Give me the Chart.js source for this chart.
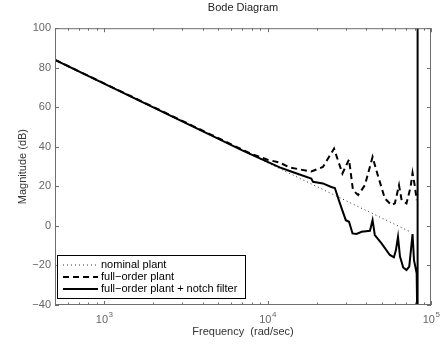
<!DOCTYPE html>
<html>
<head>
<meta charset="utf-8">
<script src="https://cdn.jsdelivr.net/npm/chart.js@4.4.1/dist/chart.umd.min.js"></script>
<style>
  html, body { margin: 0; padding: 0; background: #fff; }
  #wrap { width: 441px; height: 347px; }
</style>
</head>
<body>
<div id="wrap"><canvas id="bode"></canvas></div>
<script>
// frequency (rad/sec) and magnitude (dB)
const nominalFreq = [500, 76000];
const nominalMag = [84, -3.3];

const fullFreq = [500, 7940, 10000, 11860, 13650, 15700, 18500, 21800, 25500, 28700, 31500, 33300,
    35800, 39400, 43900, 46900, 52200, 57400, 60100, 63700, 66100, 70800, 75000, 77100, 79800, 81700];
const fullMag = [84, 36.4, 33.5, 32.0, 29.6, 28.6, 27.5, 29.8, 39.1, 26.5, 33.6, 18.1,
    15.6, 20.6, 34.9, 26.5, 13.9, 10.5, 11.4, 20.6, 13.0, 11.4, 19.7, 26.8, 19.7, 13.0];

const notchFreq = [500, 7000, 10000, 11860, 13650, 15700, 18500, 18970, 21800, 24500, 25800, 27700,
    30100, 31500, 33100, 35000, 37600, 42300, 43900, 45300, 49800, 56000, 59300, 61000, 62800,
    64600, 67600, 70800, 73600, 77100, 78700, 81700, 82800, 82800];
const notchMag = [84, 38.2, 32.4, 29.6, 27.8, 26.0, 24.0, 22.3, 21.5, 19.7, 19.2, 11.4,
    2.9, 2.1, -3.8, -4.1, -3.0, -2.5, 2.9, -4.6, -8.8, -14.7, -15.9, -12.2, -5.5,
    -15.5, -21.0, -22.3, -20.6, -4.1, -17.3, -24.0, -60, 120];

const seriesNames = ['nominal plant', 'full\u2212order plant', 'full\u2212order plant + notch filter'];
const freqTicks = [1000, 10000, 100000];
const freqTickExp = ['3', '4', '5'];
const minorFreqTicks = [500, 600, 700, 800, 900, 2000, 3000, 4000, 5000, 6000, 7000, 8000, 9000,
    20000, 30000, 40000, 50000, 60000, 70000, 80000, 90000];
const magTicks = [-40, -20, 0, 20, 40, 60, 80, 100];

const FONT = 'Liberation Sans, Arial, Helvetica, sans-serif';

function pts(xs, ys) {
    return xs.map((f, i) => ({ x: f, y: ys[i] }));
}

// box round the axes with inward ticks, like matlab
const frameTicks = {
    id: 'frameTicks',
    afterDatasetsDraw(chart) {
        const { ctx, chartArea: a, scales: { x, y } } = chart;
        ctx.save();
        ctx.strokeStyle = '#6e6e6e';
        ctx.lineWidth = 1;
        ctx.beginPath();
        magTicks.forEach(v => {
            const py = Math.round(y.getPixelForValue(v)) + 0.5;
            ctx.moveTo(a.left, py); ctx.lineTo(a.left + 4, py);
            ctx.moveTo(a.right, py); ctx.lineTo(a.right - 4, py);
        });
        freqTicks.forEach(v => {
            const px = Math.round(x.getPixelForValue(v)) + 0.5;
            ctx.moveTo(px, a.bottom); ctx.lineTo(px, a.bottom - 4);
            ctx.moveTo(px, a.top); ctx.lineTo(px, a.top + 4);
        });
        minorFreqTicks.forEach(v => {
            const px = Math.round(x.getPixelForValue(v)) + 0.5;
            ctx.moveTo(px, a.bottom); ctx.lineTo(px, a.bottom - 2.5);
            ctx.moveTo(px, a.top); ctx.lineTo(px, a.top + 2.5);
        });
        ctx.stroke();
        ctx.strokeRect(a.left + 0.5, a.top + 0.5, a.right - a.left - 1, a.bottom - a.top - 1);

        // decade labels as 10 with a raised exponent
        ctx.fillStyle = '#666';
        ctx.textBaseline = 'alphabetic';
        freqTicks.forEach((v, i) => {
            const px = x.getPixelForValue(v);
            ctx.font = '11px ' + FONT;
            const w10 = ctx.measureText('10').width;
            ctx.font = '8px ' + FONT;
            const we = ctx.measureText(freqTickExp[i]).width;
            const x0 = px - (w10 + we) / 2;
            ctx.font = '11px ' + FONT;
            ctx.textAlign = 'left';
            ctx.fillText('10', x0, a.bottom + 18);
            ctx.font = '8px ' + FONT;
            ctx.fillText(freqTickExp[i], x0 + w10 + 0.5, a.bottom + 12);
        });
        ctx.restore();
    }
};

// legend box in the lower left corner of the axes
const boxLegend = {
    id: 'boxLegend',
    afterDraw(chart) {
        const { ctx, chartArea: a } = chart;
        const left = a.left + 2, top = a.bottom - 50, w = 188, h = 43;
        ctx.save();
        ctx.fillStyle = '#fff';
        ctx.fillRect(left, top, w, h);
        ctx.strokeStyle = '#000';
        ctx.lineWidth = 1;
        ctx.strokeRect(left + 0.5, top + 0.5, w, h);
        ctx.font = '11px ' + FONT;
        ctx.textBaseline = 'middle';
        chart.data.datasets.forEach((ds, i) => {
            const cy = top + 10 + i * 12;
            ctx.beginPath();
            ctx.setLineDash(ds.borderDash || []);
            ctx.lineWidth = ds.borderWidth;
            ctx.strokeStyle = ds.borderColor;
            ctx.moveTo(left + 6, cy);
            ctx.lineTo(left + 41, cy);
            ctx.stroke();
            ctx.setLineDash([]);
            ctx.fillStyle = '#000';
            ctx.fillText(ds.label, left + 44, cy);
        });
        ctx.restore();
    }
};

new Chart(document.getElementById('bode'), {
    type: 'line',
    data: {
        datasets: [{
            label: seriesNames[0],
            data: pts(nominalFreq, nominalMag),
            borderColor: '#333',
            borderWidth: 1,
            borderDash: [1, 3],
            order: 3
        }, {
            label: seriesNames[1],
            data: pts(fullFreq, fullMag),
            borderColor: '#000',
            borderWidth: 2,
            borderDash: [6, 4],
            order: 2
        }, {
            label: seriesNames[2],
            data: pts(notchFreq, notchMag),
            borderColor: '#000',
            borderWidth: 2,
            order: 1
        }]
    },
    options: {
        responsive: true,
        maintainAspectRatio: false,
        animation: false,
        layout: { padding: { left: 0, right: 10, top: 0, bottom: 0 } },
        elements: {
            point: { radius: 0 },
            line: { tension: 0, fill: false }
        },
        plugins: {
            legend: { display: false },
            tooltip: { enabled: false },
            title: {
                display: true,
                text: 'Bode Diagram',
                fullSize: false,
                color: '#222',
                font: { family: FONT, size: 11, weight: 'normal' },
                padding: { top: 1, bottom: 14 }
            }
        },
        scales: {
            x: {
                type: 'logarithmic',
                min: 500,
                max: 100000,
                afterFit: s => { s.height = 42; },
                afterBuildTicks: s => { s.ticks = freqTicks.map(v => ({ value: v })); },
                grid: { display: false, drawTicks: false },
                border: { display: false },
                ticks: { display: false },
                title: {
                    display: true,
                    text: 'Frequency  (rad/sec)',
                    color: '#333',
                    font: { family: FONT, size: 11 },
                    padding: { top: 0, bottom: 8 }
                }
            },
            y: {
                min: -40,
                max: 100,
                afterFit: s => { s.width = 55; },
                afterBuildTicks: s => { s.ticks = magTicks.map(v => ({ value: v })); },
                grid: { display: false, drawTicks: false },
                border: { display: false },
                ticks: {
                    padding: 4,
                    color: '#666',
                    font: { family: FONT, size: 11 },
                    callback: v => (v < 0 ? '\u2212' + Math.abs(v) : String(v))
                },
                title: {
                    display: true,
                    text: 'Magnitude (dB)',
                    color: '#333',
                    font: { family: FONT, size: 11 },
                    padding: { top: 16, bottom: 0 }
                }
            }
        }
    },
    plugins: [frameTicks, boxLegend]
});
</script>
</body>
</html>
